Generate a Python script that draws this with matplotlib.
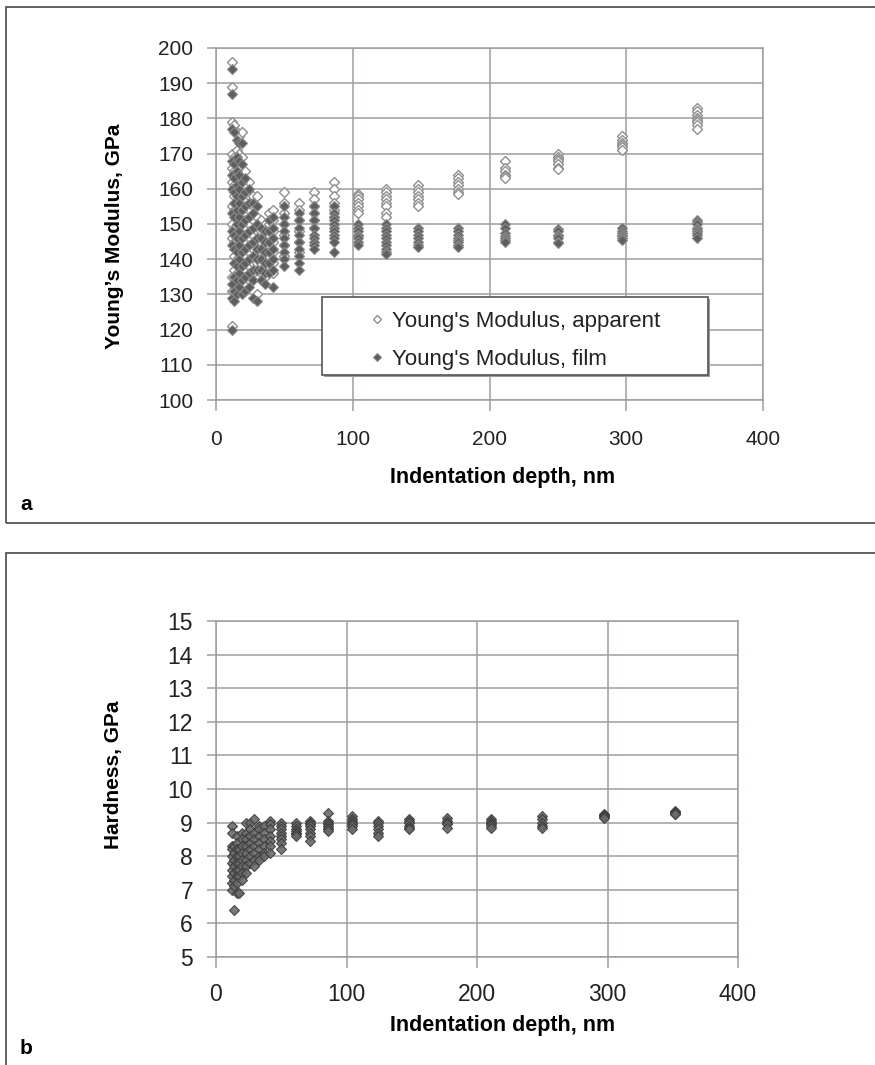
import numpy as np
import matplotlib
matplotlib.use('Agg')
import matplotlib.pyplot as plt
from matplotlib import font_manager, transforms
from matplotlib.patches import Rectangle
from matplotlib.lines import Line2D

# ---------------- data ----------------
E_depths = [12, 13.5, 15, 17, 19, 21, 24, 27, 30, 33, 36, 39, 42, 50, 61, 72, 86,
            104, 124, 148, 177, 211, 250, 297, 352]
E_apparent = [
    [196, 189, 179, 170, 166, 162, 155, 150, 146, 135, 131, 121],
    [178, 169, 165, 161, 158, 154, 149, 145, 141, 137, 133],
    [176, 171, 167, 163, 160, 156, 152, 148, 144, 140, 136],
    [175, 170, 166, 162, 158, 154, 150, 146, 142, 138],
    [176, 169, 164, 160, 156, 152, 148, 144, 140, 136],
    [165, 161, 157, 153, 149, 145, 141, 137],
    [162, 158, 154, 150, 146, 142, 138, 134],
    [158, 155, 151, 147, 143, 139, 136],
    [158, 152, 148, 145, 142, 139, 130],
    [151, 148, 145, 142, 139, 136],
    [150, 147, 144, 141, 138, 135],
    [153, 150, 147, 144, 141, 138],
    [154, 151, 148, 145, 142, 139, 136],
    [159, 156, 153, 150, 147, 144, 141],
    [156, 154, 151, 148, 145, 142],
    [159, 157, 155, 153, 151, 149],
    [162, 160, 158, 156, 154, 152, 150],
    [158.5, 158, 157, 156, 155, 154, 153],
    [160, 159, 158, 157, 156, 155, 153, 152],
    [161, 160, 159, 158, 157, 156, 155],
    [164, 163, 162, 161, 160, 159, 158.5],
    [168, 166, 165, 164, 163.5, 163],
    [170, 169, 168.5, 168, 167, 166, 165.5],
    [175, 174, 173, 172.5, 172, 171],
    [183, 182, 181, 180, 179.5, 179, 178, 177],
]
E_film = [
    [194, 187, 177, 168, 164, 160, 153, 148, 144, 133, 129, 120],
    [176, 167, 163, 159, 156, 152, 147, 143, 139, 135, 131, 128],
    [174, 169, 165, 161, 158, 154, 150, 146, 142, 138, 134, 130],
    [173, 168, 164, 160, 156, 152, 148, 144, 140, 136, 132],
    [173, 167, 162, 158, 154, 150, 146, 142, 138, 134, 130],
    [163, 159, 155, 151, 147, 143, 139, 135, 131],
    [160, 156, 152, 148, 144, 140, 136, 132],
    [156, 153, 149, 145, 141, 137, 134, 129],
    [155, 150, 146, 143, 140, 137, 128],
    [149, 146, 143, 140, 137, 134],
    [148, 145, 142, 139, 136, 133],
    [151, 148, 145, 142, 139, 136],
    [152, 149, 146, 143, 140, 137, 132],
    [155, 152, 150, 148, 146, 144, 142, 140, 138],
    [153, 151, 149, 147, 145, 143, 141, 139, 137],
    [155, 153, 151, 149, 147, 146, 145, 144, 143],
    [155, 153, 152, 151, 150, 149, 148, 147, 146, 145, 142],
    [150, 149, 148, 147, 146.5, 146, 145, 144],
    [150, 149, 148, 147, 146, 145, 144, 143, 142, 141.5],
    [149, 148, 147, 146, 145, 144, 143.5],
    [149, 148, 147, 146, 145.5, 145, 144, 143.5],
    [150, 149, 147.5, 146.5, 146, 145.5, 145],
    [148.5, 148, 147, 146.5, 146, 145, 144.5],
    [149, 148, 147.5, 147, 146.5, 146, 145.5],
    [151, 150.5, 150, 149, 148.5, 148, 147.5, 147, 146],
]

H_depths = [12, 14, 16, 18, 20, 23, 26, 29, 33, 37, 41, 50, 61, 72, 86,
            104, 124, 148, 177, 211, 250, 297, 352]
H_values = [
    [8.9, 8.7, 8.3, 8.2, 8.0, 7.8, 7.6, 7.4, 7.2, 7.0],
    [8.3, 8.1, 7.9, 7.7, 7.5, 7.3, 7.1, 6.4],
    [8.6, 8.4, 8.2, 8.0, 7.8, 7.6, 7.4, 7.2, 6.9],
    [8.2, 8.0, 7.8, 7.6, 7.4, 6.9],
    [8.7, 8.5, 8.3, 8.1, 7.9, 7.7, 7.5, 7.3],
    [9.0, 8.7, 8.5, 8.3, 8.1, 7.9, 7.7, 7.5],
    [9.0, 8.8, 8.6, 8.4, 8.2, 8.0, 7.8],
    [9.1, 8.7, 8.5, 8.3, 8.1, 7.9, 7.7],
    [8.9, 8.8, 8.6, 8.4, 8.2, 8.0, 7.9],
    [8.9, 8.7, 8.5, 8.3, 8.1, 8.0],
    [9.05, 8.95, 8.8, 8.6, 8.45, 8.3, 8.1],
    [9.0, 8.9, 8.8, 8.7, 8.6, 8.5, 8.4, 8.2],
    [9.0, 8.9, 8.8, 8.75, 8.7, 8.65, 8.6],
    [9.05, 9.0, 8.95, 8.9, 8.8, 8.7, 8.6, 8.45],
    [9.3, 9.05, 9.0, 8.95, 8.9, 8.85, 8.8, 8.75],
    [9.2, 9.1, 9.05, 9.0, 8.95, 8.9, 8.8],
    [9.05, 9.0, 8.9, 8.8, 8.7, 8.6],
    [9.1, 9.05, 9.0, 8.9, 8.85, 8.8],
    [9.15, 9.05, 9.0, 8.95, 8.85],
    [9.1, 9.05, 9.0, 8.95, 8.9, 8.85],
    [9.2, 9.1, 9.0, 8.9, 8.85],
    [9.25, 9.22, 9.2, 9.18, 9.15],
    [9.35, 9.32, 9.3, 9.27, 9.25],
]

x_ticks = [0, 100, 200, 300, 400]
E_ticks = list(range(100, 201, 10))
H_ticks = list(range(5, 16, 1))
legend_labels = ["Young's Modulus, apparent", "Young's Modulus, film"]
x_label = "Indentation depth, nm"
E_label = "Young\u2019s Modulus, GPa"
H_label = "Hardness, GPa"


def expand(depths, groups):
    xs, ys = [], []
    for d, g in zip(depths, groups):
        xs.extend([d] * len(g))
        ys.extend(g)
    return np.array(xs), np.array(ys)


# ---------------- figure ----------------
W, H = 875, 1065
fig = plt.figure(figsize=(W / 100, H / 100), dpi=100)
fig.patch.set_facecolor('white')

names = {f.name for f in font_manager.fontManager.ttflist}
SANS = 'Liberation Sans' if 'Liberation Sans' in names else 'DejaVu Sans'
NARROW = 'Liberation Sans Narrow' if 'Liberation Sans Narrow' in names else SANS

GRID = '#a39b9b'
TXT = '#222222'


def px_axes(l, t, r, b):
    return fig.add_axes([l / W, 1 - b / H, (r - l) / W, (b - t) / H])


def style(ax, ylim, yticks, tickfam, ticksize, xpad):
    ax.set_xlim(0, 400)
    ax.set_ylim(*ylim)
    ax.set_xticks(x_ticks)
    ax.set_yticks(yticks)
    ax.grid(True, color=GRID, lw=1.1)
    ax.set_axisbelow(True)
    for s in ax.spines.values():
        s.set_color(GRID)
        s.set_linewidth(1.1)
    ax.tick_params(axis='y', direction='out', length=6.5, width=1.1,
                   color=GRID, pad=10, labelsize=ticksize, labelcolor=TXT)
    ax.tick_params(axis='x', direction='out', length=8, width=1.1,
                   color=GRID, pad=xpad, labelsize=ticksize, labelcolor=TXT)
    for lbl in ax.get_xticklabels() + ax.get_yticklabels():
        lbl.set_fontfamily(tickfam)


# ---- panel a ----
axA = px_axes(216, 48, 763, 400)
style(axA, (100, 200), E_ticks, SANS, 15, 13.5)
xa, ya = expand(E_depths, E_apparent)
xf, yf = expand(E_depths, E_film)
axA.plot(xa, ya, ls='none', marker='D', ms=5, mfc='white', mec='#8f8f8f',
         mew=1.0, zorder=3)
axA.plot(xf, yf, ls='none', marker='D', ms=5, mfc='#5e5e5e', mec='#8a8a8a',
         mew=0.8, zorder=4)

# legend frame with shadow
shadow_tr = transforms.offset_copy(axA.transAxes, fig=fig, x=2, y=-2, units='dots')
axA.add_patch(Rectangle((0.1938, 0.0710), 0.7057, 0.2216, transform=shadow_tr,
                        fc='#9a9a9a', ec='none', zorder=6, clip_on=False))
axA.add_patch(Rectangle((0.1938, 0.0710), 0.7057, 0.2216, transform=axA.transAxes,
                        fc='white', ec='#555555', lw=1.2, zorder=6.1, clip_on=False))
handles = [Line2D([], [], ls='none', marker='D', ms=4.5, mfc='white', mec='#8f8f8f', mew=1.0),
           Line2D([], [], ls='none', marker='D', ms=4.5, mfc='#5e5e5e', mec='#8a8a8a', mew=0.8)]
leg = axA.legend(handles, legend_labels, loc='upper left',
                 bbox_to_anchor=(0.262, 0.285), borderpad=0, handlelength=0.6,
                 handletextpad=0.35, labelspacing=0.77, frameon=False,
                 prop={'family': SANS, 'size': 16})
leg.set_zorder(7)
for t in leg.get_texts():
    t.set_color(TXT)

# ---- panel b ----
axB = px_axes(216, 621, 738, 957)
style(axB, (5, 15), H_ticks, NARROW, 16.5, 11)
xh, yh = expand(H_depths, H_values)
axB.plot(xh, yh, ls='none', marker='D', ms=5, mfc='#6a6a6a', mec='#3c3c3c',
         mew=0.8, alpha=0.9, zorder=4)

# ---- labels ----
fig.text(114 / W, 1 - 236 / H, E_label, rotation=90, ha='center', va='center',
         fontsize=15, fontweight='bold', family=SANS, color='black')
fig.text(114 / W, 1 - 775 / H, H_label, rotation=90, ha='center', va='center',
         fontsize=15, fontweight='bold', family=SANS, color='black')
fig.text(503 / W, 1 - 478 / H, x_label, ha='center', va='center',
         fontsize=15.5, fontweight='bold', family=SANS, color='black')
fig.text(503 / W, 1 - 1026 / H, x_label, ha='center', va='center',
         fontsize=15.5, fontweight='bold', family=SANS, color='black')
fig.text(26 / W, 1 - 505 / H, 'a', ha='center', va='center',
         fontsize=15, fontweight='bold', family=SANS, color='black')
fig.text(26 / W, 1 - 1048 / H, 'b', ha='center', va='center',
         fontsize=15, fontweight='bold', family=SANS, color='black')

# ---- panel frames ----
fig.add_artist(Rectangle((6 / W, 1 - 523 / H), (890 - 6) / W, (523 - 7) / H,
                         transform=fig.transFigure, fill=False, ec='#555555', lw=1.3))
fig.add_artist(Rectangle((6 / W, -0.02), (890 - 6) / W, (1 - 553 / H) + 0.02,
                         transform=fig.transFigure, fill=False, ec='#555555', lw=1.3))

fig.savefig('out.png', dpi=100, facecolor='white')
